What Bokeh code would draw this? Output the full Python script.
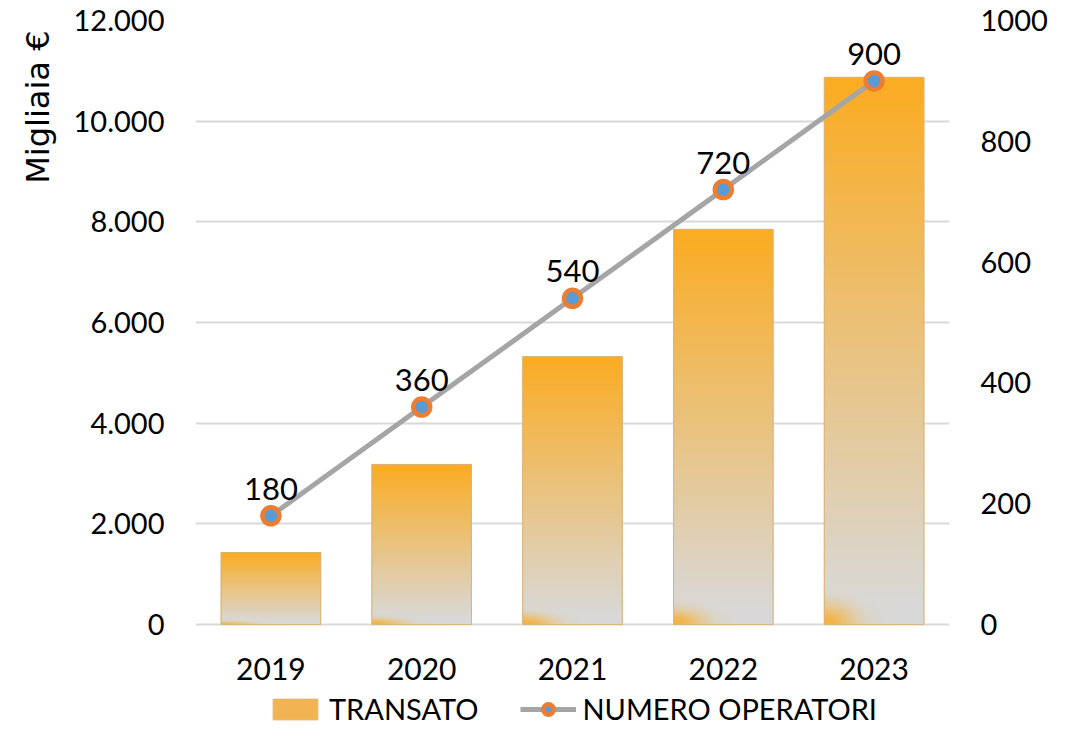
import numpy as np
from bokeh.plotting import figure
from bokeh.models import (Range1d, LinearAxis, FixedTicker, Legend, LegendItem, Title)
from bokeh.core.properties import value
from bokeh.embed import file_html
from bokeh.resources import INLINE

# ---- data ----
YEARS = ["2019", "2020", "2021", "2022", "2023"]
TRANSATO = [1430, 3180, 5320, 7850, 10870]          # migliaia di euro
OPERATORI = [180, 360, 540, 720, 900]
LEFT_TICKS = [0, 2000, 4000, 6000, 8000, 10000, 12000]
LEFT_LABELS = ["0", "2.000", "4.000", "6.000", "8.000", "10.000", "12.000"]
RIGHT_TICKS = [0, 200, 400, 600, 800, 1000]
RIGHT_LABELS = ["0", "200", "400", "600", "800", "1000"]

ORANGE = (251, 172, 34)
GRAY = (217, 217, 217)
BAR_W = 0.66
FONT = "Lato"

# layout (pixels)
W_FIG, H_FIG = 1050, 726
TOP, LEFT, RIGHT = 20, 195, 100
ZERO_PX = 624               # figure y of the value 0
span_px = ZERO_PX - TOP     # pixels for the full value span
below_px = H_FIG - ZERO_PX  # room under 0 for year labels and legend

xs = list(range(len(YEARS)))
y_lo = -LEFT_TICKS[-1] * below_px / span_px
r_lo = -RIGHT_TICKS[-1] * below_px / span_px

p = figure(width=W_FIG, height=H_FIG, x_range=Range1d(-0.5, len(YEARS) - 0.5),
           y_range=Range1d(y_lo, LEFT_TICKS[-1]),
           output_backend="svg", toolbar_location=None,
           min_border_left=LEFT, min_border_right=RIGHT,
           min_border_top=TOP, min_border_bottom=0)
p.outline_line_color = None
p.background_fill_color = "white"
p.border_fill_color = "white"

p.extra_y_ranges = {"ops": Range1d(r_lo, RIGHT_TICKS[-1])}

# grid
p.xgrid.visible = False
p.ygrid.ticker = FixedTicker(ticks=LEFT_TICKS)
p.ygrid.grid_line_color = "#D9D9D9"
p.ygrid.grid_line_width = 2

# x axis hidden (year labels drawn inside the frame)
p.xaxis.visible = False

# left axis
ya = p.yaxis[0]
ya.ticker = FixedTicker(ticks=LEFT_TICKS)
ya.major_label_overrides = {t: l for t, l in zip(LEFT_TICKS, LEFT_LABELS)}
ya.axis_line_color = None
ya.major_tick_line_color = None
ya.minor_tick_line_color = None
ya.major_tick_out = 0
ya.major_label_standoff = 31
ya.major_label_text_font = FONT
ya.major_label_text_font_size = "29px"
ya.major_label_text_color = "black"

# right axis
ra = LinearAxis(y_range_name="ops", ticker=FixedTicker(ticks=RIGHT_TICKS))
ra.major_label_overrides = {t: l for t, l in zip(RIGHT_TICKS, RIGHT_LABELS)}
ra.axis_line_color = None
ra.major_tick_line_color = None
ra.minor_tick_line_color = None
ra.major_tick_out = 0
ra.major_label_standoff = 31
ra.major_label_text_font = FONT
ra.major_label_text_font_size = "29px"
ra.major_label_text_color = "black"
p.add_layout(ra, "right")

# axis title at the top of the left side
p.add_layout(Title(text="Migliaia €", align="right", text_font="DejaVu Sans",
                   text_font_size="32px", text_font_style="normal",
                   text_color="black", standoff=28, offset=10), "left")

# ---- bars: solid base (legend), gradient image, outline ----
base = p.vbar(x=xs, top=TRANSATO, width=BAR_W, bottom=0,
              fill_color="#F2B452", line_color="#E3B878", line_width=1)

H, W = 300, 120
v = np.linspace(0, 1, H)[:, None]
u = np.linspace(0, 1, W)[None, :]
s = np.clip((v - 0.03) / 0.97, 0, 1)
s = np.maximum(s, 0.45 * np.exp(-u / 0.03) * np.clip(v * 1.6, 0, 1))
s = np.maximum(s, 0.85 * np.exp(-((u / 0.3) ** 2 + (v / 0.035) ** 2)))
s = np.clip(s, 0, 1)
img = np.empty((H, W), dtype=np.uint32)
view = img.view(dtype=np.uint8).reshape((H, W, 4))
for c in range(3):
    view[:, :, c] = (GRAY[c] + (ORANGE[c] - GRAY[c]) * s).astype(np.uint8)
view[:, :, 3] = 255

p.image_rgba(image=[img] * len(xs), x=[x - BAR_W / 2 for x in xs],
             y=[0] * len(xs), dw=[BAR_W] * len(xs), dh=TRANSATO)

p.vbar(x=xs, top=TRANSATO, width=BAR_W, bottom=0, fill_color=None,
       line_color="#D9B47A", line_width=1, line_alpha=0.9)

# year labels under the bars
p.text(x=xs, y=[0] * len(xs), text=YEARS, text_align="center",
       text_baseline="middle", y_offset=44, text_font=value(FONT),
       text_font_size="30px", text_color="black")

# ---- line ----
line_r = p.line(xs, OPERATORI, y_range_name="ops", line_color="#A5A5A5", line_width=5)
pts_r = p.scatter(xs, OPERATORI, y_range_name="ops", size=17,
                  fill_color="#5B9BD5", line_color="#ED7D31", line_width=4.5)

p.text(x=xs, y=OPERATORI, text=[str(o) for o in OPERATORI], y_range_name="ops",
       text_align="center", text_baseline="bottom", y_offset=-16,
       text_font=value(FONT), text_font_size="31px", text_color="black")

legend = Legend(items=[LegendItem(label="TRANSATO", renderers=[base]),
                       LegendItem(label="NUMERO OPERATORI", renderers=[line_r, pts_r])],
                orientation="horizontal", location="bottom_center",
                label_text_font=FONT, label_text_font_size="29px",
                label_text_color="black", glyph_width=56, glyph_height=26,
                spacing=42, label_standoff=6, padding=2, margin=0,
                border_line_color=None, background_fill_alpha=0)
p.add_layout(legend, "center")

open("out.html", "w").write(file_html(p, INLINE))
